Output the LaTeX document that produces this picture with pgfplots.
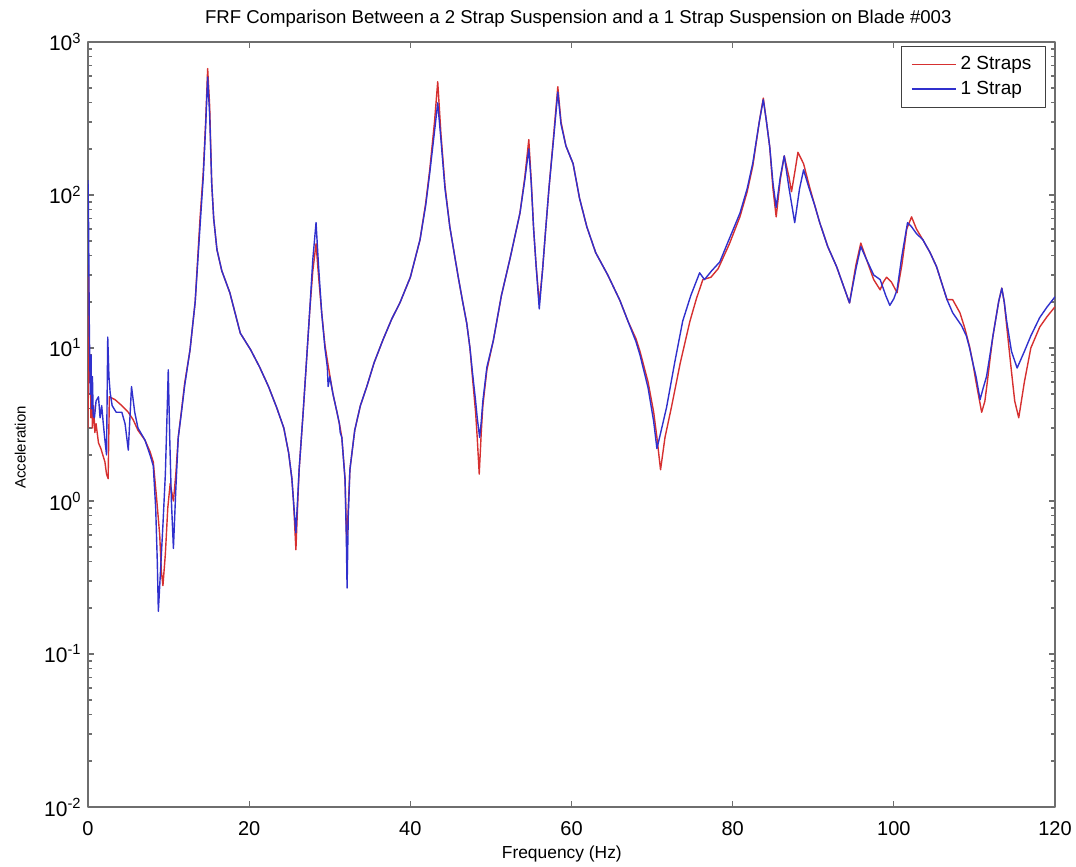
\documentclass[border=0pt]{standalone}
\usepackage{fontspec}
\setmainfont{Liberation Sans}
\usepackage{pgfplots}
\pgfplotsset{compat=1.18}
\definecolor{redline}{RGB}{214,48,48}
\definecolor{blueline}{RGB}{48,48,205}
\definecolor{axgray}{RGB}{110,110,110}
\begin{document}
\begin{tikzpicture}
\useasboundingbox (-44pt,-30pt) rectangle (494pt,403.5pt);
\begin{axis}[
  at={(0,0)}, anchor=south west,
  scale only axis, width=483.5pt, height=382.5pt,
  xmin=0, xmax=120, ymode=log, ymin=1e-2, ymax=1e3,
  xtick={0,20,40,60,80,100,120},
  ytick={0.01,0.1,1,10,100,1000},
  yticklabels={10\textsuperscript{-2},10\textsuperscript{-1},10\textsuperscript{0},10\textsuperscript{1},10\textsuperscript{2},10\textsuperscript{3}},
  minor ytick={0.02,0.03,0.04,0.05,0.06,0.07,0.08,0.09,0.2,0.3,0.4,0.5,0.6,0.7,0.8,0.9,2,3,4,5,6,7,8,9,20,30,40,50,60,70,80,90,200,300,400,500,600,700,800,900},
  /pgf/number format/assume math mode=true,
  tick align=inside, major tick length=3pt, minor tick length=2pt,
  axis line style={axgray, line width=0.7pt},
  every tick/.style={axgray, line width=0.6pt},
  xticklabel style={font=\fontsize{10}{12}\selectfont, anchor=center, yshift=-11pt, inner sep=0pt},
  yticklabel style={font=\fontsize{10.5}{12}\selectfont, anchor=east, xshift=-3pt, inner sep=0pt},
  title={FRF Comparison Between a 2 Strap Suspension and a 1 Strap Suspension on Blade \#003},
  title style={at={(axis description cs:0.507,1.0153)}, anchor=center, inner sep=0pt, font=\fontsize{9.3}{11}\selectfont},
  xlabel={Frequency (Hz)},
  xlabel style={at={(axis description cs:0.49,-0.061)}, anchor=center, inner sep=0pt, font=\fontsize{8.7}{10}\selectfont},
  ylabel={Acceleration},
  ylabel style={at={(axis description cs:-0.070,0.47)}, anchor=center, inner sep=0pt, rotate=0, font=\fontsize{7.5}{9}\selectfont},
  legend style={at={(axis description cs:0.9907,0.9948)}, anchor=north east, draw=black!75, line width=0.6pt,
    font=\fontsize{9.5}{11}\selectfont, inner xsep=5pt, inner ysep=3pt, row sep=0pt, cells={anchor=west}},
  legend image code/.code={\draw[#1] (0pt,0pt) -- (22pt,0pt);},
  line join=round,
]
\addplot[redline, line width=0.7pt] coordinates {
(0.0,3.0)(0.06,35)(0.12,10)(0.2,6)(0.28,9)(0.36,3.5)(0.45,6)(0.55,3.0)(0.7,4.2)(0.85,2.8)(1.0,3.2)(1.3,2.4)(1.6,2.2)(1.9,1.95)(2.1,1.8)(2.3,1.5)(2.5,1.4)(2.65,4.8)(3.35,4.6)(4.2,4.2)(5.0,3.8)(5.6,3.4)(6.2,2.9)(7.07,2.5)(7.7,2.1)(8.1,1.8)(8.5,1.06)(8.9,0.6)(9.1,0.35)(9.3,0.28)(9.6,0.45)(9.9,0.9)(10.2,1.3)(10.6,1.0)(10.9,1.5)(11.2,2.6)(11.6,3.9)(12.0,5.9)(12.66,9.7)(13.3,20)(13.9,70)(14.3,140)(14.6,300)(14.85,670)(15.1,380)(15.35,120)(15.6,70)(16.0,44)(16.6,32)(17.6,23)(18.9,12.5)(20.2,9.7)(21.3,7.5)(22.4,5.6)(23.4,4.1)(24.3,3.0)(24.9,2.06)(25.3,1.4)(25.5,1.0)(25.8,0.48)(26.0,0.9)(26.2,1.6)(26.7,3.8)(27.1,8)(27.5,17)(27.9,32)(28.3,48)(28.6,30)(29.0,17)(29.4,10.5)(29.8,7.7)(30.4,5)(30.9,3.8)(31.3,3.0)(31.5,2.6)(31.9,1.4)(32.1,0.53)(32.3,0.9)(32.5,1.6)(33.1,2.9)(33.8,4.2)(34.6,5.6)(35.5,8)(36.6,11.3)(37.7,15.5)(38.7,19.7)(40.0,29)(41.2,51)(41.9,88)(42.4,145)(43.0,300)(43.4,550)(43.8,250)(44.3,115)(44.9,62)(45.5,40)(46.0,28)(46.5,20)(47.0,14.5)(47.4,10)(47.7,6.5)(48.1,3.8)(48.3,2.6)(48.55,1.5)(48.8,2.8)(49.0,4.2)(49.5,7.2)(50.3,11.2)(51.3,22)(52.4,39)(53.6,76)(54.2,130)(54.7,230)(55.0,125)(55.3,60)(55.6,35)(56.0,19.7)(56.4,32)(56.8,60)(57.2,110)(57.8,250)(58.3,510)(58.7,300)(59.3,210)(60.2,160)(61.0,95)(61.9,62)(63.0,42)(64.5,30)(66.0,20.5)(67.0,15)(68.0,11.5)(68.5,9.5)(69.5,6)(70.2,3.8)(70.6,2.6)(71.05,1.6)(71.6,2.6)(72.4,4.1)(73.5,8)(74.7,15)(75.5,21)(76.3,28)(77.3,29)(78.2,33)(79.6,48)(80.9,72)(81.8,105)(82.5,155)(83.3,300)(83.8,430)(84.2,300)(84.6,206)(85.0,110)(85.4,72)(85.9,125)(86.4,180)(87.0,130)(87.3,105)(87.7,140)(88.1,190)(88.8,160)(89.5,115)(90.2,85)(90.8,66)(91.8,46)(92.9,34)(93.8,25)(94.5,19.7)(95.3,35)(95.9,48.5)(96.6,38)(97.5,28)(98.3,24)(98.7,27)(99.1,29)(99.7,27)(100.4,23)(101.0,35)(101.6,60)(102.2,72)(102.8,60)(103.6,51)(104.5,42)(105.3,34)(106.0,26)(106.6,20.7)(107.3,20.7)(108.2,17)(108.8,13.5)(109.4,10.2)(109.8,8)(110.2,6)(110.9,3.8)(111.3,4.5)(111.6,6)(112.0,9)(112.3,12)(113.0,20)(113.4,24.6)(113.7,20)(114.0,14)(114.6,7)(115.0,4.5)(115.5,3.5)(116.2,6)(117.0,10)(118.1,13.7)(119.0,16)(120.0,18.6)
};
\addlegendentry{2 Straps}
\addplot[blueline, line width=0.7pt] coordinates {
(0.0,125)(0.08,60)(0.15,16)(0.22,8)(0.3,5)(0.38,9)(0.45,4)(0.55,6.5)(0.65,3.6)(0.8,3.5)(1.0,4.5)(1.3,4.8)(1.5,3.5)(1.7,4.2)(1.9,3.2)(2.1,2.5)(2.3,2.0)(2.45,11.8)(2.6,6.5)(2.75,5.1)(3.0,4.2)(3.5,3.8)(4.2,3.8)(4.6,3.2)(5.0,2.15)(5.4,5.6)(5.8,3.8)(6.2,3.0)(7.07,2.5)(7.7,2.0)(8.1,1.7)(8.4,0.9)(8.6,0.4)(8.73,0.19)(9.0,0.35)(9.3,0.7)(9.6,1.5)(9.8,3.5)(9.96,7.2)(10.15,2.5)(10.35,1.0)(10.6,0.49)(10.9,1.2)(11.2,2.6)(11.6,3.8)(12.0,5.7)(12.66,9.7)(13.3,20)(13.9,62)(14.3,130)(14.6,280)(14.85,590)(15.1,330)(15.35,120)(15.6,70)(16.0,44)(16.6,32)(17.6,23)(18.9,12.5)(20.2,9.7)(21.3,7.5)(22.4,5.6)(23.4,4.1)(24.3,3.0)(24.9,2.06)(25.3,1.4)(25.5,1.0)(25.8,0.62)(26.0,1.0)(26.2,1.6)(26.7,3.8)(27.1,8)(27.5,17)(27.9,38)(28.3,66)(28.6,35)(29.0,17)(29.4,10)(29.7,7.5)(29.8,5.6)(30.0,6.5)(30.4,5)(30.9,3.8)(31.2,3.2)(31.3,2.8)(31.5,2.6)(31.9,1.37)(32.05,0.6)(32.15,0.27)(32.3,0.8)(32.5,1.6)(33.1,2.9)(33.8,4.2)(34.6,5.6)(35.5,8)(36.6,11.3)(37.7,15.5)(38.7,19.7)(40.0,29)(41.2,51)(41.9,85)(42.4,138)(43.0,260)(43.4,400)(43.8,230)(44.3,110)(44.9,62)(45.5,40)(46.0,28)(46.5,20)(47.0,14.5)(47.4,10)(47.7,7)(48.1,4.5)(48.3,3.5)(48.6,2.6)(48.8,3.3)(49.0,4.5)(49.5,7.5)(50.3,11.2)(51.3,22)(52.4,39)(53.6,76)(54.2,125)(54.7,200)(55.0,120)(55.3,60)(55.6,35)(56.0,18)(56.4,32)(56.8,60)(57.2,110)(57.8,240)(58.3,470)(58.7,290)(59.3,210)(60.2,160)(61.0,95)(61.9,62)(63.0,42)(64.5,30)(66.0,20.5)(67.0,15)(68.0,11)(68.5,9)(69.5,5.5)(70.2,3.3)(70.6,2.2)(71.0,2.7)(71.8,4.1)(72.8,8)(73.8,15)(74.8,22)(75.9,31)(76.5,28)(77.4,32)(78.4,36.5)(79.6,52)(80.9,76)(81.8,110)(82.5,162)(83.3,300)(83.8,420)(84.2,300)(84.6,206)(85.0,120)(85.4,83)(85.9,130)(86.4,180)(87.0,110)(87.7,66)(88.3,110)(88.8,146)(89.5,110)(90.2,85)(90.8,66)(91.8,46)(92.9,34)(93.8,25)(94.5,19.7)(95.3,33)(95.9,46)(96.6,38)(97.5,30)(98.3,28)(99.0,22)(99.5,19)(100.0,21)(100.4,24)(101.0,40)(101.7,66)(102.2,62)(102.8,56)(103.6,51)(104.5,42)(105.3,34)(106.0,26)(106.6,20.7)(107.3,17)(108.4,14)(109.0,12)(109.4,10)(109.8,8)(110.2,6.5)(110.7,4.6)(111.1,5.5)(111.5,6.5)(112.0,9.5)(112.3,12)(113.0,20)(113.4,24.6)(113.7,20)(114.0,15)(114.6,9.5)(115.3,7.4)(116.2,9.5)(117.0,12)(118.1,15.8)(119.0,18.5)(120.0,21.6)
};
\addlegendentry{1 Strap}
\end{axis}
\end{tikzpicture}
\end{document}
